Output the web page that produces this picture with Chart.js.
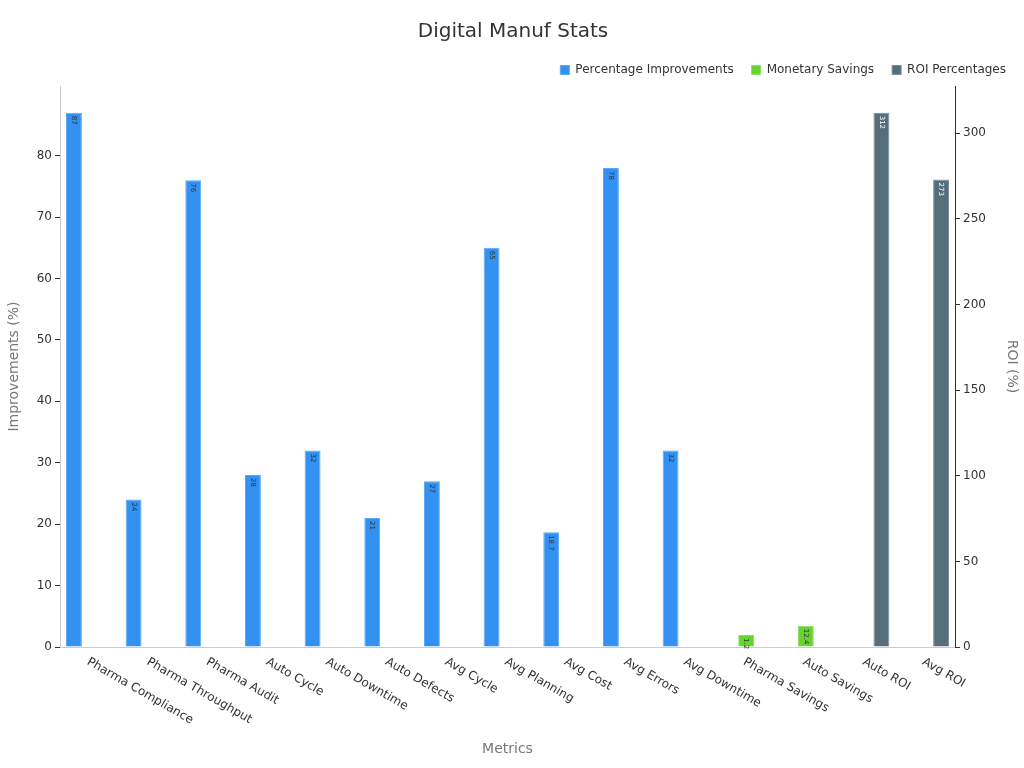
<!DOCTYPE html>
<html><head><meta charset="utf-8">
<script src="https://cdn.jsdelivr.net/npm/chart.js@4"></script>
<style>html,body{margin:0;background:#fff}#w{width:1024px;height:768px}</style>
</head><body><div id="w"><canvas id="c"></canvas></div>
<script>
const categories=["Pharma Compliance","Pharma Throughput","Pharma Audit","Auto Cycle","Auto Downtime","Auto Defects","Avg Cycle","Avg Planning","Avg Cost","Avg Errors","Avg Downtime","Pharma Savings","Auto Savings","Auto ROI","Avg ROI"];
const improvements=[87,24,76,28,32,21,27,65,18.7,78,32,null,null,null,null];
const savings=[null,null,null,null,null,null,null,null,null,null,null,1.2,12.4,null,null];
const roi=[null,null,null,null,null,null,null,null,null,null,null,null,null,312,273];
const F="'DejaVu Sans', sans-serif";
const vlabels={id:'vl',afterDatasetsDraw(ch){const c=ch.ctx;ch.data.datasets.forEach((ds,i)=>{ch.getDatasetMeta(i).data.forEach((b,j)=>{const v=ds.data[j];if(v==null)return;c.save();c.translate(b.x,b.y+3);c.rotate(Math.PI/2);c.font="7px "+F;c.fillStyle=i==2?'#fff':'#333';c.textBaseline='middle';c.fillText(String(v),0,0);c.restore();});});}};
const xlab={id:'xl',afterDraw(ch){const s=ch.scales.x,c=ch.ctx;c.save();c.font="12px "+F;c.fillStyle='#333';categories.forEach((t,i)=>{const x=s.getPixelForTick(i);c.save();c.translate(x-2,s.top+14);c.rotate(Math.PI/6);c.textBaseline='middle';c.fillText(t,0,0);c.restore();});c.restore();}};
const keepStep=st=>sc=>{sc.ticks=sc.ticks.filter(t=>Math.abs(t.value/st-Math.round(t.value/st))<1e-6);};
new Chart(document.getElementById('c'),{type:'bar',
data:{labels:categories,datasets:[
{label:'Percentage Improvements',data:improvements,backgroundColor:'#3391f2',borderColor:'#5aa8f5',borderWidth:1,yAxisID:'y'},
{label:'Monetary Savings',data:savings,backgroundColor:'#66d42e',borderColor:'#8ae060',borderWidth:1,yAxisID:'y1',minBarLength:12},
{label:'ROI Percentages',data:roi,backgroundColor:'#546e7a',borderColor:'#7a8f99',borderWidth:1,yAxisID:'y1'}]},
options:{responsive:true,maintainAspectRatio:false,animation:false,
layout:{padding:{left:2,right:0,top:0,bottom:6}},
datasets:{bar:{categoryPercentage:0.8,barPercentage:1,skipNull:false}},
plugins:{title:{display:true,text:'Digital Manuf Stats',font:{family:F,size:20,weight:'normal'},color:'#333',padding:{top:20,bottom:2}},
legend:{align:'end',labels:{usePointStyle:true,pointStyle:'rect',boxWidth:9,boxHeight:9,padding:18,font:{family:F,size:12},color:'#333'}},tooltip:{enabled:false}},
scales:{
x:{grid:{display:false},border:{color:'#ccc'},ticks:{display:false},afterFit:s=>{s.height=115;},title:{display:true,text:'Metrics',color:'#777',font:{family:F,size:14}}},
y:{position:'left',min:0,max:91.35,afterBuildTicks:keepStep(10),afterFit:s=>{s.width=58;},grid:{drawOnChartArea:false,tickLength:5,color:'#333'},border:{color:'#ccc'},ticks:{stepSize:10,color:'#333',font:{family:F,size:12}},title:{display:true,text:'Improvements (%)',color:'#777',font:{family:F,size:14}}},
y1:{position:'right',min:0,max:327.6,afterBuildTicks:keepStep(50),afterFit:s=>{s.width=69;},grid:{drawOnChartArea:false,tickLength:5,color:'#333'},border:{color:'#333'},ticks:{stepSize:50,color:'#333',font:{family:F,size:12}},title:{display:true,text:'ROI (%)',color:'#777',font:{family:F,size:14}}}}},
plugins:[vlabels,xlab]});
</script></body></html>
